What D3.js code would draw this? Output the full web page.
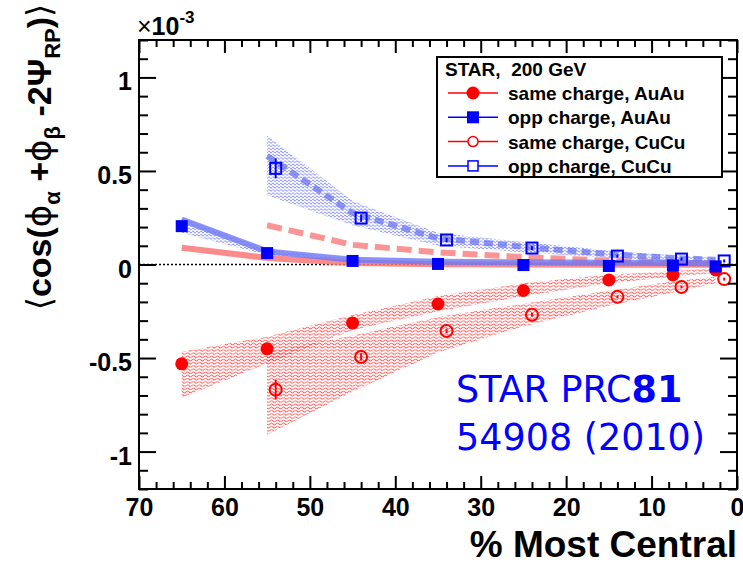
<!DOCTYPE html>
<html>
<head>
<meta charset="utf-8">
<script src="https://cdn.jsdelivr.net/npm/d3@7"></script>
<style>
  html, body { margin: 0; padding: 0; background: #fff; }
  svg { display: block; }
  .ax text { font-family: "Liberation Sans", Arial, sans-serif; font-weight: bold; font-size: 25px; fill: #000; }
</style>
</head>
<body>
<div id="chart"></div>
<script>
// Charge-dependent azimuthal correlator vs. centrality, AuAu and CuCu at 200 GeV (values in units of 1e-3)
const auauCent = [65, 55, 45, 35, 25, 15, 7.5, 2.5];
const cucuCent = [55, 45, 35, 25, 15, 7.5, 2.5];

const sameAuAu    = [-0.531, -0.451, -0.313, -0.211, -0.139, -0.083, -0.056, -0.029];
const sameAuAuErr = [0.03, 0.015, 0.01, 0.008, 0.006, 0.005, 0.005, 0.005];
const oppAuAu     = [0.205, 0.061, 0.019, 0.003, -0.003, -0.008, -0.005, -0.01];
const oppAuAuErr  = [0.025, 0.012, 0.008, 0.006, 0.005, 0.005, 0.005, 0.005];

const sameCuCu    = [-0.669, -0.494, -0.355, -0.269, -0.173, -0.12, -0.078];
const sameCuCuErr = [0.053, 0.02, 0.012, 0.01, 0.008, 0.008, 0.008];
const oppCuCu     = [0.514, 0.248, 0.131, 0.088, 0.045, 0.029, 0.019];
const oppCuCuErr  = [0.053, 0.02, 0.012, 0.01, 0.008, 0.008, 0.008];

// systematic bands
const sameAuAuBandHi = [-0.467, -0.385, -0.27, -0.17, -0.10, -0.055, -0.035, -0.02];
const sameAuAuBandLo = [-0.712, -0.53, -0.35, -0.25, -0.17, -0.10, -0.066, -0.045];
const oppAuAuBandHi  = [0.25, 0.08, 0.03, 0.015, 0.01, 0.008, 0.006, 0.005];
const oppAuAuBandLo  = [0.17, 0.05, 0.015, 0.005, 0.002, 0.0, 0.0, 0.0];
const sameCuCuBandHi = [-0.47, -0.38, -0.28, -0.21, -0.14, -0.09, -0.066];
const sameCuCuBandLo = [-0.91, -0.68, -0.47, -0.33, -0.22, -0.15, -0.10];
const oppCuCuBandHi  = [0.69, 0.34, 0.17, 0.12, 0.075, 0.05, 0.035];
const oppCuCuBandLo  = [0.37, 0.21, 0.10, 0.065, 0.035, 0.015, 0.01];

// flow-background expectations (thick lines)
const bkgSameAuAu = [0.09, 0.035, 0.008, 0.002, 0.0, -0.002, -0.002, -0.002];
const bkgOppAuAu  = [0.24, 0.07, 0.025, 0.015, 0.012, 0.01, 0.008, 0.006];
const bkgSameCuCu = [0.21, 0.105, 0.065, 0.04, 0.02, 0.01, 0.005];
const bkgOppCuCu  = [0.58, 0.275, 0.14, 0.095, 0.055, 0.035, 0.025];

const xTicks = [70, 60, 50, 40, 30, 20, 10, 0];
const yTicks = [-1, -0.5, 0, 0.5, 1];
const legendTitle = "STAR,\u00a0 200 GeV";
const legendLabels = ["same charge, AuAu", "opp charge, AuAu", "same charge, CuCu", "opp charge, CuCu"];

const W = 743, H = 566;
const cucuShift = -1; // CuCu markers drawn 1% to the right for visibility

const x = d3.scaleLinear().domain([70, 0]).range([139, 737]);
const y = d3.scaleLinear().domain([-1.2, 1.2]).range([489, 40]);

const svg = d3.select("#chart").append("svg").attr("width", W).attr("height", H);
const defs = svg.append("defs");

function wavyPattern(id, color, w, h) {
  const p = defs.append("pattern").attr("id", id).attr("patternUnits", "userSpaceOnUse")
    .attr("width", w).attr("height", h);
  p.append("path").attr("d", `M0,${h/2} Q${w/4},0 ${w/2},${h/2} T${w},${h/2}`)
    .attr("fill", "none").attr("stroke", color).attr("stroke-width", 0.9);
  return `url(#${id})`;
}
const redFill = wavyPattern("redHatch", "rgba(255,60,60,0.85)", 6, 3.2);
const blueFill = wavyPattern("blueHatch", "rgba(90,100,255,0.75)", 4, 3.2);

function band(cent, lo, hi, fill, shift = 0) {
  const pts = cent.map((c, i) => ({ c: c, lo: lo[i], hi: hi[i] }));
  const area = d3.area().x(d => x(d.c + shift)).y0(d => y(d.lo)).y1(d => y(d.hi));
  svg.append("path").attr("d", area(pts)).attr("fill", fill).attr("stroke", "none");
}

band(auauCent, sameAuAuBandLo, sameAuAuBandHi, redFill);
band(cucuCent, sameCuCuBandLo, sameCuCuBandHi, redFill);
band(auauCent, oppAuAuBandLo, oppAuAuBandHi, blueFill);
band(cucuCent, oppCuCuBandLo, oppCuCuBandHi, blueFill);

// zero line
svg.append("line").attr("x1", x(70)).attr("x2", x(0)).attr("y1", y(0)).attr("y2", y(0))
  .attr("stroke", "#000").attr("stroke-width", 1.6).attr("stroke-dasharray", "2,2");

function thickLine(cent, vals, color, dash) {
  const line = d3.line().x((d, i) => x(cent[i])).y(d => y(d));
  const p = svg.append("path").attr("d", line(vals)).attr("fill", "none")
    .attr("stroke", color).attr("stroke-width", 6);
  if (dash) p.attr("stroke-dasharray", dash);
}
thickLine(cucuCent, bkgSameCuCu, "rgba(250,130,130,0.85)", "15,7");
thickLine(cucuCent, bkgOppCuCu, "rgba(100,110,240,0.7)", "9,5");
thickLine(auauCent, bkgSameAuAu, "rgba(250,120,120,0.85)");
thickLine(auauCent, bkgOppAuAu, "rgba(110,120,245,0.8)");

// markers with statistical error bars
function series(cent, vals, errs, color, shape, filled, shift = 0) {
  const g = svg.append("g");
  cent.forEach((c, i) => {
    const cx = x(c + shift), cy = y(vals[i]);
    g.append("line").attr("x1", cx).attr("x2", cx)
      .attr("y1", y(vals[i] + errs[i])).attr("y2", y(vals[i] - errs[i]))
      .attr("stroke", color).attr("stroke-width", 2);
    if (shape === "circle") {
      g.append("circle").attr("cx", cx).attr("cy", cy).attr("r", filled ? 6.5 : 6)
        .attr("fill", filled ? color : "#fff").attr("fill-opacity", filled ? 1 : 0)
        .attr("stroke", color).attr("stroke-width", filled ? 0 : 2);
    } else {
      const s = filled ? 12 : 11;
      g.append("rect").attr("x", cx - s / 2).attr("y", cy - s / 2).attr("width", s).attr("height", s)
        .attr("fill", filled ? color : "none").attr("stroke", color).attr("stroke-width", filled ? 0 : 2);
    }
  });
}
series(cucuCent, sameCuCu, sameCuCuErr, "#ff0000", "circle", false, cucuShift);
series(cucuCent, oppCuCu, oppCuCuErr, "#0000ff", "square", false, cucuShift);
series(auauCent, sameAuAu, sameAuAuErr, "#ff0000", "circle", true);
series(auauCent, oppAuAu, oppAuAuErr, "#0000ff", "square", true);

// axes: inward ticks on all four sides
const xMinor = d3.range(0, 71, 2).filter(v => v % 10 !== 0);
const yMinor = d3.range(-12, 13).map(v => v / 10).filter(v => Math.abs(v * 10) % 5 !== 0);
const yFmt = v => String(v).replace("\u2212", "-");

function addAxis(axis, tx, ty, labels) {
  const g = svg.append("g").attr("class", "ax").attr("transform", `translate(${tx},${ty})`).call(axis);
  g.select(".domain").remove();
  g.selectAll(".tick line").attr("stroke", "#000").attr("stroke-width", 2);
  if (!labels) g.selectAll("text").remove();
  return g;
}
addAxis(d3.axisBottom(x).tickValues(xTicks).tickSize(-13).tickPadding(9).tickFormat(d3.format("d")), 0, 489, true);
addAxis(d3.axisBottom(x).tickValues(xMinor).tickSize(-7), 0, 489, false);
addAxis(d3.axisTop(x).tickValues(xTicks).tickSize(-13), 0, 40, false);
addAxis(d3.axisTop(x).tickValues(xMinor).tickSize(-7), 0, 40, false);
const yl = addAxis(d3.axisLeft(y).tickValues(yTicks).tickSize(-17).tickPadding(7).tickFormat(yFmt), 139, 0, true);
yl.selectAll("text").attr("dy", "0.5em");
addAxis(d3.axisLeft(y).tickValues(yMinor).tickSize(-9), 139, 0, false);
addAxis(d3.axisRight(y).tickValues(yTicks).tickSize(-17), 737, 0, false);
addAxis(d3.axisRight(y).tickValues(yMinor).tickSize(-9), 737, 0, false);

svg.append("rect").attr("x", x(70)).attr("y", y(1.2)).attr("width", x(0) - x(70)).attr("height", y(-1.2) - y(1.2))
  .attr("fill", "none").attr("stroke", "#000").attr("stroke-width", 2);

// exponent label
const exp = svg.append("text").attr("x", 137).attr("y", 35)
  .attr("font-family", "Liberation Sans, Arial, sans-serif").attr("font-size", 25).attr("fill", "#000");
exp.append("tspan").text("\u00d7").attr("font-weight", "normal");
exp.append("tspan").text("10").attr("font-weight", "bold");
exp.append("tspan").text("-3").attr("font-weight", "bold").attr("font-size", 17).attr("dy", -12);

// axis titles
svg.append("text").attr("x", 737).attr("y", 557).attr("text-anchor", "end")
  .attr("font-family", "Liberation Sans, Arial, sans-serif").attr("font-weight", "bold")
  .attr("font-size", 37).text("% Most Central");

const yt = svg.append("text").attr("transform", "translate(51,157) rotate(-90)").attr("text-anchor", "middle")
  .attr("font-family", "Liberation Sans, Arial, sans-serif").attr("font-weight", "bold").attr("font-size", 34);
yt.append("tspan").text("\u27e8").attr("font-weight", "normal").attr("font-family", "DejaVu Sans");
yt.append("tspan").text("cos(");
yt.append("tspan").text("\u03d5").attr("font-family", "DejaVu Sans").attr("font-weight", "normal");
yt.append("tspan").text("\u03b1").attr("font-size", 22).attr("dy", 9);
yt.append("tspan").text(" +").attr("dy", -9);
yt.append("tspan").text("\u03d5").attr("font-family", "DejaVu Sans").attr("font-weight", "normal");
yt.append("tspan").text("\u03b2").attr("font-size", 22).attr("dy", 9);
yt.append("tspan").text(" -2\u03a8").attr("dy", -9);
yt.append("tspan").text("RP").attr("font-size", 22).attr("dy", 9);
yt.append("tspan").text(")").attr("dy", -9);
yt.append("tspan").text("\u27e9").attr("font-weight", "normal").attr("font-family", "DejaVu Sans");

// legend
const lg = svg.append("g");
lg.append("rect").attr("x", 437).attr("y", 57).attr("width", 285).attr("height", 120)
  .attr("fill", "#fff").attr("stroke", "#000").attr("stroke-width", 2);
const lf = "Liberation Sans, Arial, sans-serif";
lg.append("text").attr("x", 445).attr("y", 76).attr("font-family", lf).attr("font-weight", "bold")
  .attr("font-size", 19).text(legendTitle);
const legendStyle = [
  { color: "#ff0000", shape: "circle", filled: true },
  { color: "#0000ff", shape: "square", filled: true },
  { color: "#ff0000", shape: "circle", filled: false },
  { color: "#0000ff", shape: "square", filled: false }
];
legendLabels.forEach((lab, i) => {
  const cy = 93 + i * 24.3, st = legendStyle[i];
  lg.append("line").attr("x1", 448).attr("x2", 498).attr("y1", cy).attr("y2", cy)
    .attr("stroke", st.color).attr("stroke-width", 1.5);
  if (st.shape === "circle") {
    lg.append("circle").attr("cx", 473).attr("cy", cy).attr("r", st.filled ? 6.5 : 5)
      .attr("fill", st.filled ? st.color : "#fff").attr("stroke", st.color).attr("stroke-width", st.filled ? 0 : 1.5);
  } else {
    const s = st.filled ? 12 : 10;
    lg.append("rect").attr("x", 473 - s / 2).attr("y", cy - s / 2).attr("width", s).attr("height", s)
      .attr("fill", st.filled ? st.color : "#fff").attr("stroke", st.color).attr("stroke-width", st.filled ? 0 : 1.5);
  }
  lg.append("text").attr("x", 508).attr("y", cy + 7).attr("font-family", lf).attr("font-weight", "bold")
    .attr("font-size", 19).text(lab);
});

// reference note
const note = svg.append("text").attr("font-family", "DejaVu Sans, sans-serif").attr("font-size", 36.5).attr("fill", "#0000ff");
note.append("tspan").attr("x", 456).attr("y", 402).text("STAR PRC");
note.append("tspan").attr("font-weight", "bold").text("81");
note.append("tspan").attr("x", 456).attr("y", 450).text("54908 (2010)");
</script>
</body>
</html>
